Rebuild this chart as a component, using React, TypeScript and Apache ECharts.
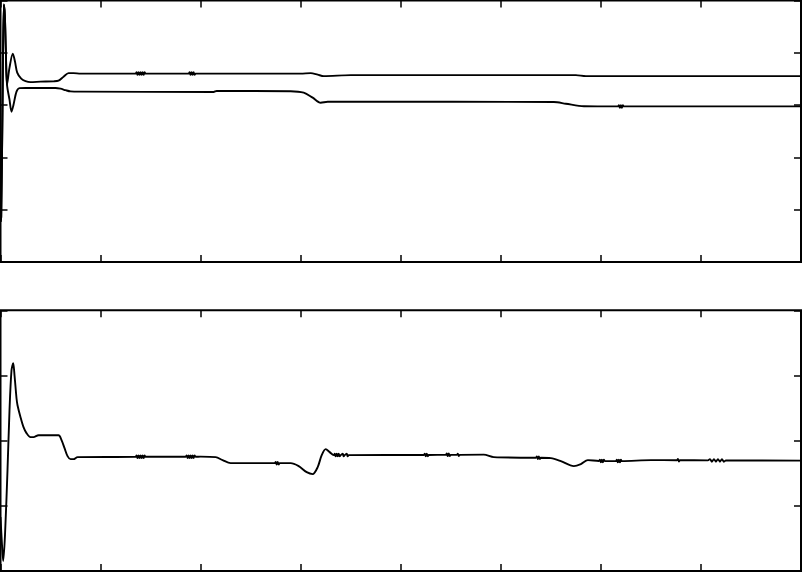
import React, { useEffect, useRef } from "react";
import * as echarts from "echarts";

// Upper panel, curve 1 (settles higher)
const topUpperX = [0, 0.007, 0.02, 0.033, 0.043, 0.053, 0.065, 0.09, 0.123, 0.145, 0.167, 0.207, 0.25, 0.3, 0.4, 0.53, 0.58, 0.63, 0.68, 0.73, 0.8,
  1.35, 1.36, 1.37, 1.38, 1.39, 1.4, 1.41, 1.42, 1.43, 1.44, 1.45,
  1.88, 1.89, 1.9, 1.91, 1.92, 1.93, 1.94, 1.95,
  3.0, 3.1, 3.17, 3.23, 3.5, 5.75, 5.85, 8.0];
const topUpperY = [0.766, 0.862, 2.912, 4.923, 4.732, 4.061, 3.391, 3.716, 3.985, 3.831, 3.621, 3.506, 3.458, 3.439, 3.448, 3.454, 3.467, 3.544, 3.611, 3.611, 3.602,
  3.602, 3.627, 3.577, 3.627, 3.577, 3.627, 3.577, 3.627, 3.577, 3.627, 3.602,
  3.602, 3.627, 3.577, 3.627, 3.577, 3.627, 3.577, 3.602,
  3.602, 3.611, 3.582, 3.554, 3.573, 3.573, 3.554, 3.554];

// Upper panel, curve 2 (settles lower)
const topLowerX = [0, 0.007, 0.02, 0.033, 0.043, 0.053, 0.065, 0.09, 0.11, 0.13, 0.16, 0.19, 0.25, 0.55, 0.6, 0.65, 0.7, 0.8, 2.13, 2.16, 2.9, 3.03, 3.12, 3.2, 3.27, 3.5, 5.53, 5.65, 5.83,
  6.17, 6.18, 6.19, 6.2, 6.21, 6.22, 6.23, 8.0];
const topLowerY = [0.766, 0.862, 2.912, 4.923, 4.732, 4.061, 3.391, 3.103, 2.874, 3.008, 3.257, 3.324, 3.328, 3.328, 3.314, 3.285, 3.262, 3.257, 3.251, 3.27, 3.266, 3.238, 3.142, 3.046, 3.065, 3.065, 3.059, 3.027, 2.979,
  2.975, 3.0, 2.95, 3.0, 2.95, 3.0, 2.975, 2.975];

// Lower panel
const bottomX = [0, 0.015, 0.027, 0.045, 0.07, 0.09, 0.11, 0.127, 0.14, 0.16, 0.17, 0.2, 0.23, 0.26, 0.3, 0.33, 0.38, 0.58, 0.61, 0.64, 0.67, 0.7, 0.73, 0.77,
  1.35, 1.36, 1.37, 1.38, 1.39, 1.4, 1.41, 1.42, 1.43, 1.44, 1.45,
  1.85, 1.86, 1.87, 1.88, 1.89, 1.9, 1.91, 1.92, 1.93, 1.94, 1.95,
  2.0, 2.15, 2.22, 2.3,
  2.74, 2.75, 2.76, 2.77, 2.78, 2.79,
  2.9, 2.98, 3.06, 3.12, 3.17, 3.21, 3.25, 3.29, 3.33,
  3.34, 3.35, 3.36, 3.37, 3.38, 3.39, 3.4, 3.42, 3.43, 3.44, 3.46, 3.47, 3.48,
  4.23, 4.24, 4.25, 4.26, 4.27, 4.28,
  4.45, 4.46, 4.47, 4.48, 4.49, 4.5,
  4.56, 4.57, 4.58, 4.59,
  4.83, 4.93,
  5.35, 5.36, 5.37, 5.38, 5.39, 5.4,
  5.5, 5.6, 5.73, 5.8, 5.87,
  5.98, 5.99, 6.0, 6.01, 6.02, 6.03, 6.04,
  6.15, 6.16, 6.17, 6.18, 6.19, 6.2, 6.21,
  6.5, 6.76, 6.77, 6.78, 6.79,
  7.07, 7.09, 7.11, 7.13, 7.15, 7.17, 7.19, 7.21, 7.23, 7.25,
  8.0];
const bottomY = [0.828, 0.398, 0.153, 0.552, 1.548, 2.467, 3.08, 3.188, 3.004, 2.651, 2.544, 2.36, 2.207, 2.115, 2.054, 2.054, 2.084, 2.084, 2.008, 1.885, 1.762, 1.716, 1.716, 1.747,
  1.752, 1.772, 1.732, 1.772, 1.732, 1.772, 1.732, 1.772, 1.732, 1.772, 1.752,
  1.753, 1.773, 1.733, 1.773, 1.733, 1.773, 1.733, 1.773, 1.733, 1.773, 1.753,
  1.755, 1.747, 1.701, 1.655,
  1.655, 1.675, 1.635, 1.675, 1.635, 1.655,
  1.655, 1.609, 1.517, 1.487, 1.594, 1.778, 1.87, 1.824, 1.778,
  1.798, 1.758, 1.798, 1.758, 1.798, 1.758, 1.778, 1.798, 1.758, 1.778, 1.798, 1.758, 1.778,
  1.78, 1.8, 1.76, 1.8, 1.76, 1.78,
  1.782, 1.802, 1.762, 1.802, 1.762, 1.782,
  1.782, 1.8, 1.764, 1.782,
  1.785, 1.747,
  1.738, 1.758, 1.718, 1.758, 1.718, 1.738,
  1.732, 1.686, 1.609, 1.64, 1.701,
  1.688, 1.708, 1.668, 1.708, 1.668, 1.708, 1.686,
  1.686, 1.706, 1.666, 1.706, 1.666, 1.706, 1.686,
  1.701, 1.7, 1.72, 1.68, 1.7,
  1.697, 1.717, 1.677, 1.717, 1.677, 1.717, 1.677, 1.717, 1.677, 1.697,
  1.693];

const xTicks = { min: 0, max: 8, interval: 1 };
const topYTicks = { min: 0, max: 5, interval: 1 };
const bottomYTicks = { min: 0, max: 4, interval: 1 };

const zip = (xs: number[], ys: number[]) => xs.map((x, i) => [x, ys[i]]);

export default function App() {
  const ref = useRef<HTMLDivElement>(null);
  useEffect(() => {
    if (!ref.current) return;
    const chart = echarts.init(ref.current, undefined, { renderer: "svg" });
    const tick = { show: true, inside: true, length: 7, lineStyle: { color: "#000", width: 1.5 } };
    const xAx = (gridIndex: number, position: string) => ({
      type: "value",
      gridIndex,
      position,
      ...xTicks,
      axisLine: { show: false, onZero: false },
      axisTick: tick,
      axisLabel: { show: false },
      splitLine: { show: false },
    });
    const yAx = (gridIndex: number, position: string, t: any) => ({
      type: "value",
      gridIndex,
      position,
      ...t,
      axisLine: { show: false, onZero: false },
      axisTick: tick,
      axisLabel: { show: false },
      splitLine: { show: false },
    });
    const lineSeries = (xAxisIndex: number, yAxisIndex: number, data: number[][]) => ({
      type: "line",
      xAxisIndex,
      yAxisIndex,
      data,
      showSymbol: false,
      symbol: "none",
      smooth: 0.3,
      lineStyle: { color: "#000", width: 1.9 },
      silent: true,
    });
    chart.setOption({
      animation: false,
      backgroundColor: "#fff",
      grid: [
        { left: 0.5, top: 0.5, width: 800.5, height: 261.5, show: true, borderColor: "#000", borderWidth: 2, backgroundColor: "transparent" },
        { left: 0.5, top: 310.3, width: 800.5, height: 260.7, show: true, borderColor: "#000", borderWidth: 2, backgroundColor: "transparent" },
      ],
      xAxis: [xAx(0, "bottom"), xAx(0, "top"), xAx(1, "bottom"), xAx(1, "top")],
      yAxis: [
        yAx(0, "left", topYTicks),
        yAx(0, "right", topYTicks),
        yAx(1, "left", bottomYTicks),
        yAx(1, "right", bottomYTicks),
      ],
      series: [
        lineSeries(0, 0, zip(topUpperX, topUpperY)),
        lineSeries(0, 0, zip(topLowerX, topLowerY)),
        lineSeries(2, 2, zip(bottomX, bottomY)),
        lineSeries(1, 1, []),
        lineSeries(3, 3, []),
      ],
    });
    return () => chart.dispose();
  }, []);
  return <div ref={ref} style={{ position: "fixed", left: 0, top: 0, width: 802, height: 573 }} />;
}
